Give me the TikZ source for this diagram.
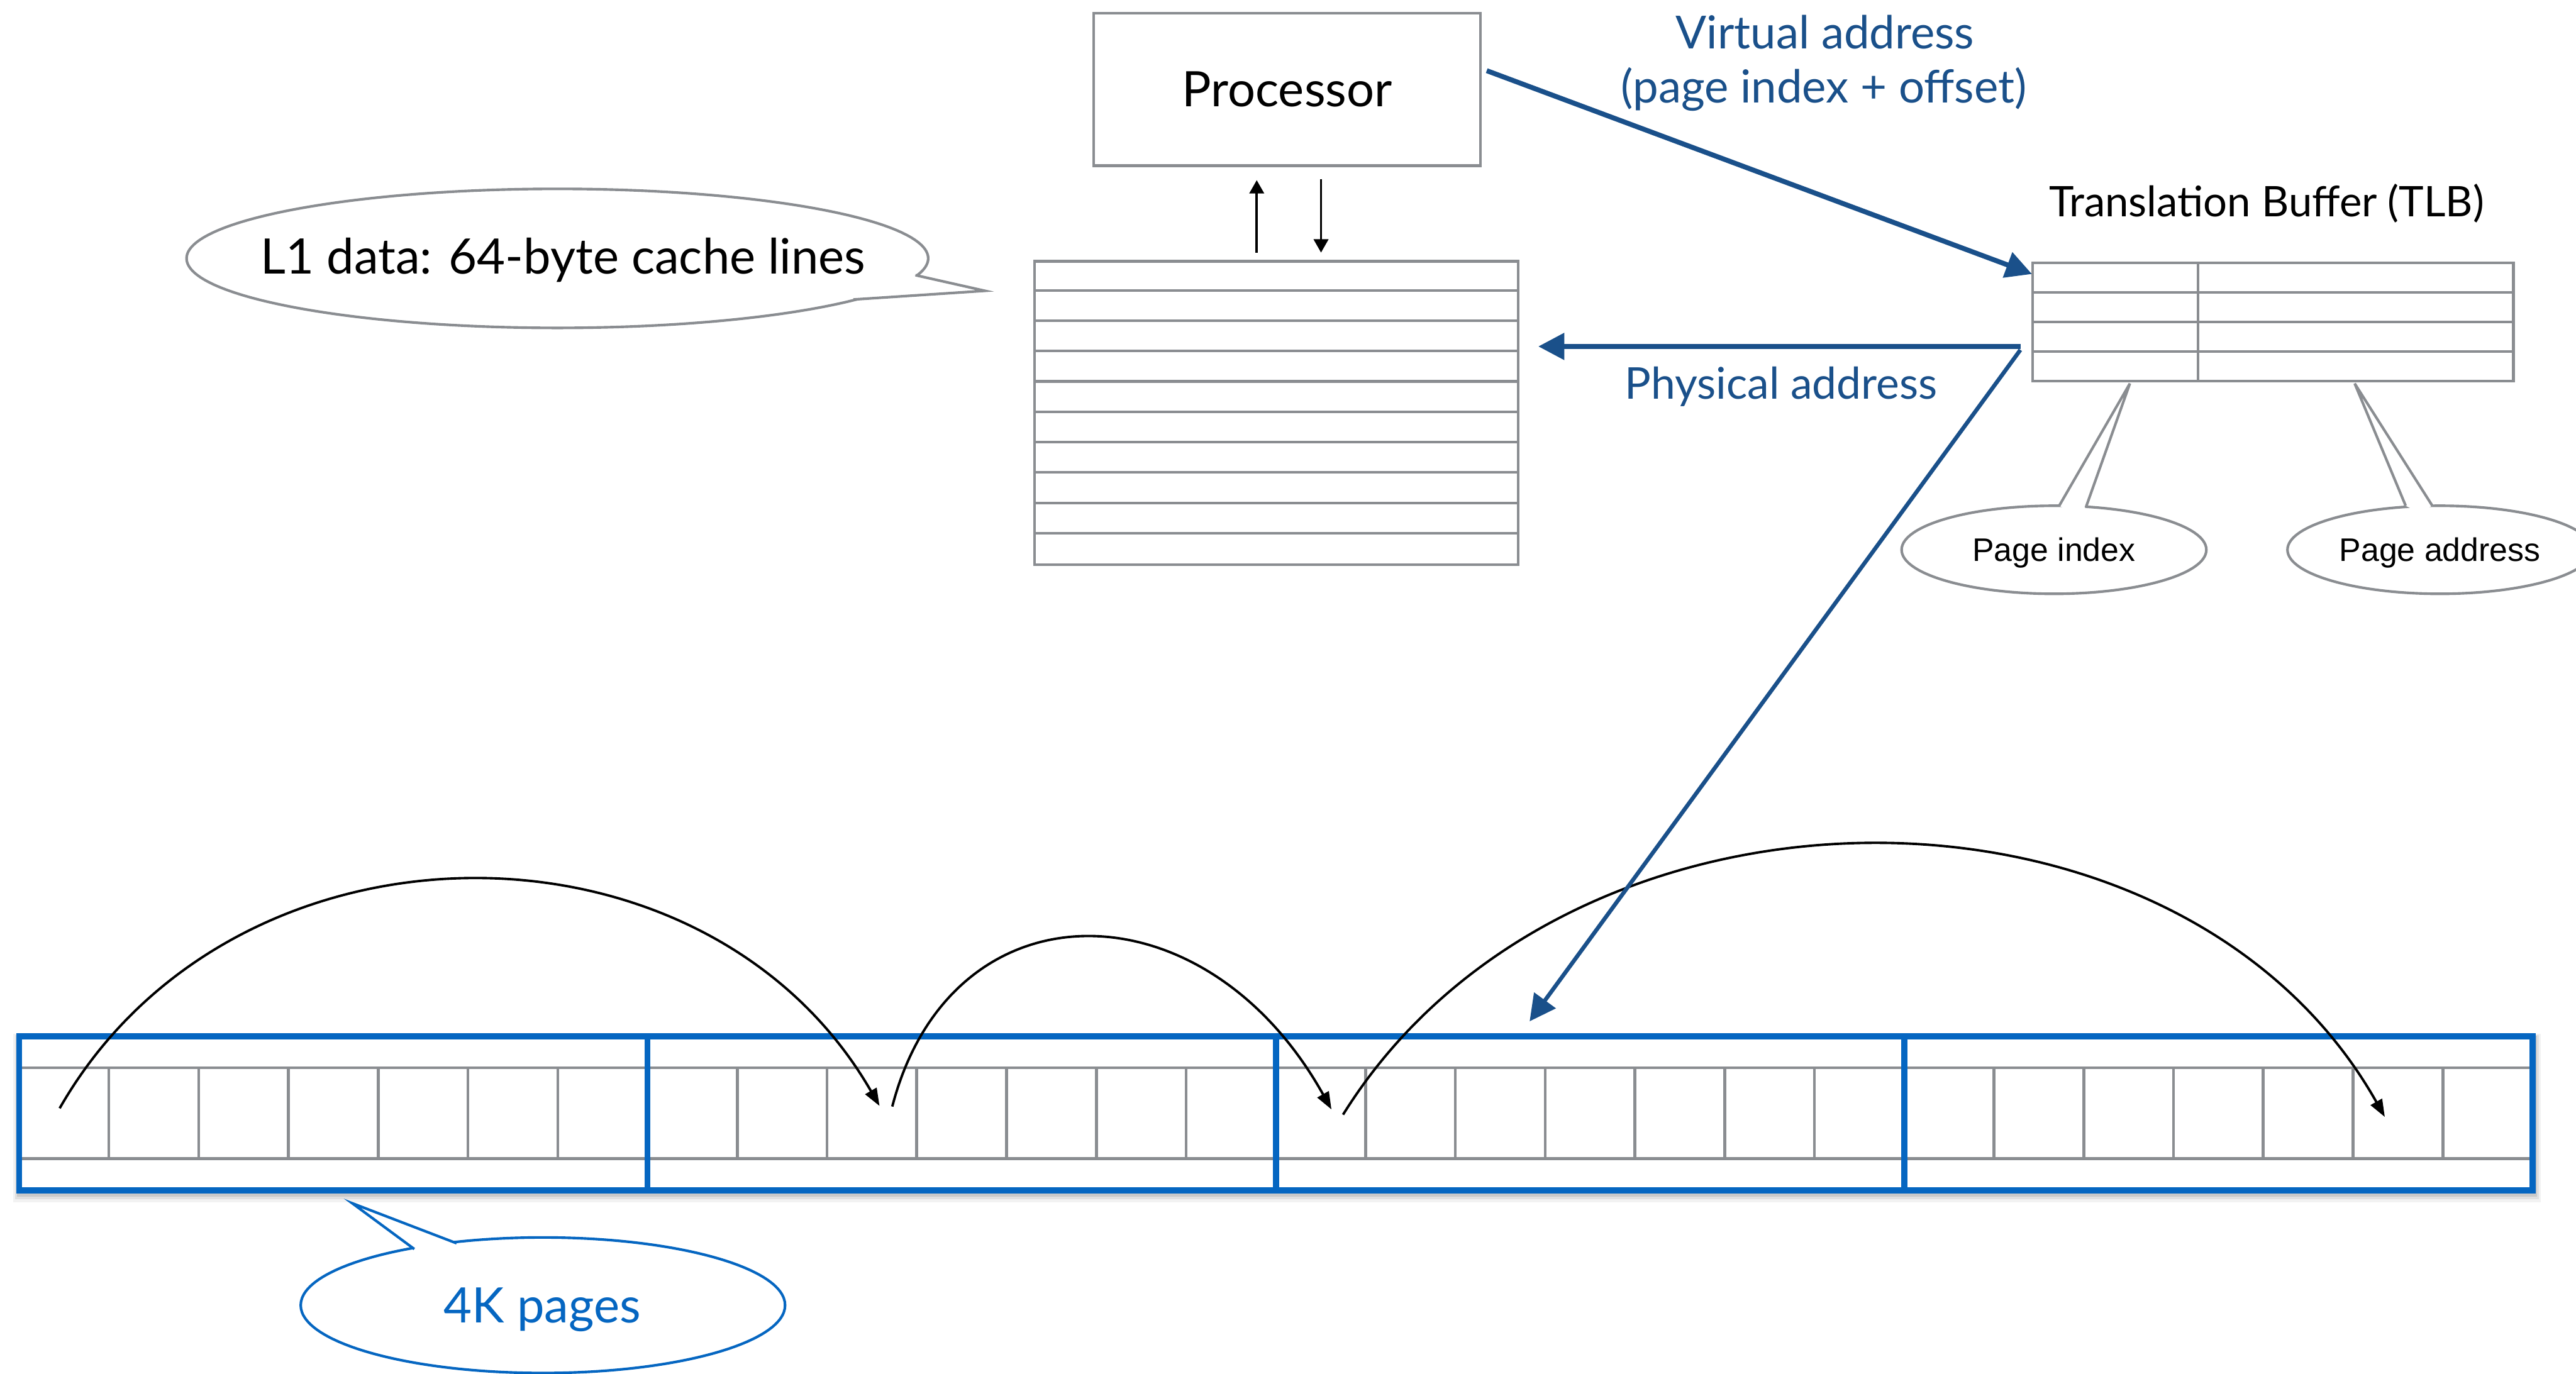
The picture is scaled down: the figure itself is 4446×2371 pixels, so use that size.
\documentclass[tikz,border=0pt]{standalone}
\usepackage{fontspec}
\setmainfont{Lato}
\newfontfamily\calloutfont{Liberation Sans}
\usetikzlibrary{arrows.meta,shapes.geometric}
\definecolor{rulegray}{RGB}{138,141,145}
\definecolor{addrblue}{RGB}{26,80,138}
\definecolor{pageblue}{RGB}{5,102,193}

\begin{document}
\begin{tikzpicture}[x=0.1mm,y=-0.1mm,
  rule/.style={draw=rulegray,line width=0.45mm},
  gridrule/.style={draw=rulegray,line width=0.5mm},
  boxed/.style={rule,fill=white,rectangle,inner sep=0pt},
  bubble/.style={rule,fill=white,ellipse,inner sep=0pt},
  pagebox/.style={draw=pageblue,line width=1.05mm,rectangle,inner sep=0pt,
    minimum width=108.45mm,minimum height=26.6mm},
  addrarrow/.style={draw=addrblue,line width=0.85mm,-{Triangle[length=4.5mm,width=4.5mm]}},
  busarrow/.style={draw=black,line width=0.4mm,-{Triangle[length=2.3mm,width=2.5mm]}},
  hop/.style={draw=black,line width=0.42mm,-{Triangle[length=3mm,width=2.2mm]}},
  label/.style={inner sep=0pt,anchor=base},
  bigtext/.style={label,font=\fontsize{24}{28}\selectfont},
  vatext/.style={label,text=addrblue,font=\fontsize{22.4}{26}\selectfont},
  patext/.style={label,text=addrblue,font=\fontsize{21.5}{25}\selectfont},
  tlbtext/.style={label,font=\fontsize{20.7}{24}\selectfont},
  smalltext/.style={label,font=\calloutfont\fontsize{16}{19}\selectfont},
]
\fill[white] (0,0) rectangle (4446,2371);
\clip (0,0) rectangle (4446,2371);

% ---------- processor and L1 cache ----------
\node[boxed,minimum width=66.7mm,minimum height=26.3mm,
      font=\fontsize{24}{28}\selectfont] (proc) at (2221.5,154.5) {Processor};

\node[boxed,minimum width=83.4mm,minimum height=52.4mm] (cache) at (2203,713) {};
\foreach \k in {1,...,9}
  \draw[rule] (cache.north west) ++(0,{52.4*\k}) -- ++(834,0);

\coordinate (upfoot) at (2169,436);
\coordinate (uptip)  at (2169,311);
\coordinate (dnfoot) at (2280,309);
\coordinate (dntip)  at (2280,436);
\draw[busarrow] (upfoot) -- (uptip);
\draw[busarrow] (dnfoot) -- (dntip);

% L1 callout
\node[bubble,minimum width=128mm,minimum height=24mm] (l1bubble) at (962,446) {};
\fill[white] (1580,475) -- (1700,502) -- (1473,517) -- (1510,492) -- cycle;
\draw[rule,line join=miter] (1580,475) -- (1700,502) -- (1473,517);
\node[bigtext] (l1text) at (972,473) {L1 data: 64-byte cache lines};

% ---------- TLB ----------
\node[boxed,minimum width=83mm,minimum height=20.4mm] (tlb) at (3923,556) {};
\draw[rule] (3794,454) -- (3794,658);
\foreach \yy in {505,556,607}
  \draw[rule] (3508,\yy) -- (4338,\yy);
\node[tlbtext] (tlbtitle) at (3912,374) {Translation Buffer (TLB)};

% TLB field callouts
\node[bubble,minimum width=52.6mm,minimum height=15.2mm] (pidx) at (3545,949) {};
\fill[white] (3554,873) -- (3676,662) -- (3600,876) -- (3577,885) -- cycle;
\draw[rule,line join=miter] (3554,873) -- (3676,662) -- (3600,876);
\node[smalltext] (pidxtext) at (3545,969) {Page index};

\node[bubble,minimum width=52.6mm,minimum height=15.2mm] (paddrb) at (4211,949) {};
\fill[white] (4152,873) -- (4064,662) -- (4198,873) -- (4175,885) -- cycle;
\draw[rule,line join=miter] (4152,873) -- (4064,662) -- (4198,873);
\node[smalltext] (paddrtext) at (4211,969) {Page address};

% ---------- address labels ----------
\node[vatext] (vaddr)  at (3150,84)  {Virtual address};
\node[vatext] (vaddr2) at (3148,178) {(page index + offset)};
\node[patext] (paddr)  at (3074,689) {Physical address};

% ---------- memory pages ----------
% soft shadow under the page frames
\foreach \op/\lw/\dy in {0.05/2.4/8, 0.07/1.7/6, 0.10/1.2/5}
  \draw[black,opacity=\op,line width=\lw mm]
    (35,1789+\dy) rectangle (4373,2055+\dy)
    (1119.1,1789+\dy) -- (1119.1,2055+\dy)
    (2203.3,1789+\dy) -- (2203.3,2055+\dy)
    (3287.4,1789+\dy) -- (3287.4,2055+\dy);
\fill[white] (33,1789) rectangle (4371,2055);

% cell grid
\draw[gridrule] (33,1843) -- (4371,1843);
\draw[gridrule] (33,2000) -- (4371,2000);
\foreach \p in {0,...,3}
  \foreach \c in {1,...,6}
    \draw[gridrule] ({33+1084.5*\p+154.93*\c},1843) -- ({33+1084.5*\p+154.93*\c},2000);

% page frames
\node[pagebox] (pg1) at (575.25,1922) {};
\node[pagebox] (pg2) at (1659.75,1922) {};
\node[pagebox] (pg3) at (2744.25,1922) {};
\node[pagebox] (pg4) at (3828.75,1922) {};

% jumps between cache lines
\coordinate (j1s) at (103,1913);  \coordinate (j1e) at (1518,1909);
\coordinate (j2s) at (1540,1910); \coordinate (j2e) at (2298,1915);
\coordinate (j3s) at (2318,1924); \coordinate (j3e) at (4116,1928);
\draw[hop] (j1s) .. controls (403,1388) and (1218,1388) .. (j1e);
\draw[hop] (j2s) .. controls (1641,1521) and (2078,1521) .. (j2e);
\draw[hop] (j3s) .. controls (2705,1302) and (3763,1302) .. (j3e);

% 4K pages callout
\node[bubble,draw=pageblue,line width=0.45mm,minimum width=83.6mm,minimum height=23.4mm]
  (pagesbubble) at (937,2253) {};
\fill[white] (715,2156) -- (608,2077) -- (788,2146) -- (750,2165) -- cycle;
\draw[pageblue,line width=0.45mm,line join=miter] (715,2156) -- (608,2077) -- (788,2146);
\node[bigtext,text=pageblue] (pagestext) at (936,2283) {4K pages};

% ---------- translation arrows ----------
\coordinate (vfrom) at (2566,122);
\coordinate (vto)   at (3507,473);
\draw[addrarrow] (vfrom) -- (vto);

\coordinate (pfork)  at (3487,598);
\coordinate (pto)    at (2655,598);
\draw[addrarrow] (pfork) -- (pto);

\coordinate (pfork2) at (3487,604);
\coordinate (mto)    at (2640,1763);
\draw[addrarrow,line width=0.7mm] (pfork2) -- (mto);
\end{tikzpicture}
\end{document}
